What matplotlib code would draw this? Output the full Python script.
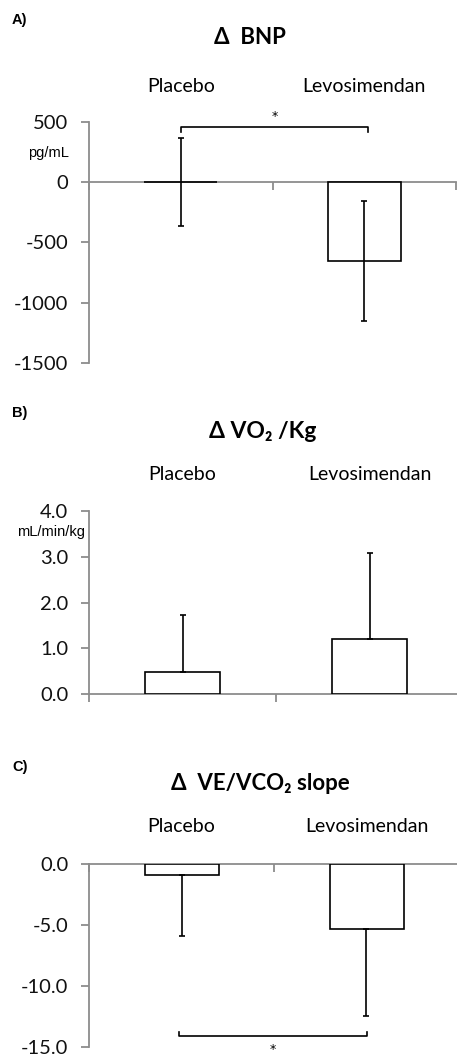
import matplotlib
matplotlib.use("Agg")
import matplotlib.pyplot as plt
import matplotlib.transforms as mtransforms

W, H = 457, 1055

# datos
grupos = ["Placebo", "Levosimendan"]

bnp_media = [5, -657]
bnp_err = [365, 497]

vo2_media = [0.48, 1.21]
vo2_err = [1.24, 1.86]

ve_media = [-0.9, -5.34]
ve_err = [4.99, 7.14]

gris = "#8c8c8c"
fuente = ["Lato", "DejaVu Sans"]
plt.rcParams["font.family"] = fuente

fig = plt.figure(figsize=(W / 100, H / 100), dpi=100)


def ejes(l, r, t, b):
    # rectangulo en pixeles -> fraccion de figura
    return fig.add_axes([l / W, 1 - b / H, (r - l) / W, (b - t) / H])


def fy(py):
    return 1 - py / H


def panel(ax, medias, errs, lados, ylim, yticks, fmt, ycat):
    x = [0.5, 1.5]
    lower = [e if lados in ("both", "minus") else 0 for e in errs]
    upper = [e if lados in ("both", "plus") else 0 for e in errs]
    ax.bar(x, medias, width=0.4, color="white", edgecolor="black", linewidth=1.2, zorder=3)
    ax.errorbar(x, medias, yerr=[lower, upper], fmt="none", ecolor="black",
                elinewidth=1.2, capsize=2.5, capthick=1.2, zorder=4)
    ax.set_xlim(0, 2)
    ax.set_ylim(*ylim)
    ax.set_yticks(yticks)
    ax.set_yticklabels([fmt.format(v) for v in yticks], fontsize=14.5, color="#111111")
    ax.set_xticks([0, 1, 2])
    ax.set_xticklabels([])
    for s in ("top", "right"):
        ax.spines[s].set_visible(False)
    ax.spines["bottom"].set_position(("data", 0))
    for s in ("left", "bottom"):
        ax.spines[s].set_color(gris)
        ax.spines[s].set_linewidth(1.3)
    ax.tick_params(axis="both", direction="out", length=6, width=1.3, color=gris)
    ax.tick_params(axis="y", pad=9)
    ax.patch.set_visible(False)
    tr = mtransforms.blended_transform_factory(ax.transData, fig.transFigure)
    for xi, g in zip(x, grupos):
        ax.text(xi, fy(ycat), g, transform=tr, ha="center", va="center", fontsize=14)


def corchete(ax, x0, x1, y, y2, ystar):
    ax.plot([x0, x0, x1, x1], [y2, y, y, y2], color="black", lw=1.2, clip_on=False, zorder=5)
    ax.text((x0 + x1) / 2, ystar, "*", ha="center", va="center", fontsize=9,
            family="DejaVu Sans", clip_on=False)


# A) BNP
axA = ejes(89, 456, 122, 362.7)
panel(axA, bnp_media, bnp_err, "both", (-1500, 500), [500, 0, -500, -1000, -1500], "{:d}", 86)
corchete(axA, 0.5, 1.52, 456, 420, 545)
fig.text(12 / W, fy(20), "A)", fontsize=10.5, fontweight="bold", family="Liberation Sans", va="center")
fig.text(250 / W, fy(38), "Δ  BNP", fontsize=16, fontweight="bold", ha="center", va="center")
fig.text(69 / W, fy(153), "pg/mL", fontsize=10.5, family="Liberation Sans", ha="right", va="center")

# B) VO2/Kg
axB = ejes(89, 463, 510.7, 694.3)
panel(axB, vo2_media, vo2_err, "plus", (0, 4), [0, 1, 2, 3, 4], "{:.1f}", 474)
axB.spines["left"].set_bounds(0, 4)
fig.text(12 / W, fy(413), "B)", fontsize=10.5, fontweight="bold", family="Liberation Sans", va="center")
fig.text(263 / W, fy(431), "Δ VO₂ /Kg", fontsize=16.5, fontweight="bold", ha="center", va="center")
fig.text(85 / W, fy(532), "mL/min/kg", fontsize=10.5, family="Liberation Sans", ha="right", va="center")

# C) VE/VCO2 slope
axC = ejes(89, 459, 864, 1046.7)
panel(axC, ve_media, ve_err, "minus", (-15, 0), [0, -5, -10, -15], "{:.1f}", 826)
corchete(axC, 0.486, 1.503, -14.12, -13.8, -15.2)
fig.text(12 / W, fy(767), "C)", fontsize=10.5, fontweight="bold", family="Liberation Sans", va="center")
fig.text(260 / W, fy(783), "Δ  VE/VCO₂ slope", fontsize=16, fontweight="bold", ha="center", va="center")

fig.savefig("out.png", dpi=100, facecolor="white")
